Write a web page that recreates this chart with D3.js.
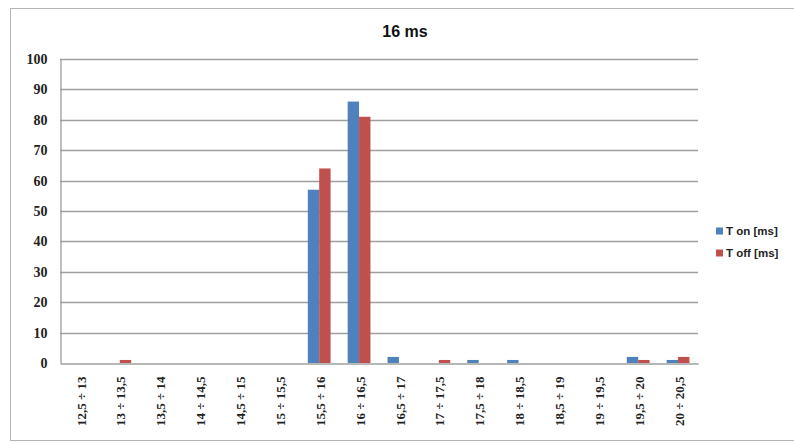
<!DOCTYPE html>
<html>
<head>
<meta charset="utf-8">
<script src="https://cdn.jsdelivr.net/npm/d3@7/dist/d3.min.js"></script>
<style>
  html, body { margin: 0; padding: 0; background: #fff; }
  svg { display: block; }
</style>
</head>
<body>
<svg id="chart" width="794" height="443"></svg>
<script>
// Interval classes (ms)
const categories = [
  "12,5 ÷ 13", "13 ÷ 13,5", "13,5 ÷ 14", "14 ÷ 14,5", "14,5 ÷ 15", "15 ÷ 15,5",
  "15,5 ÷ 16", "16 ÷ 16,5", "16,5 ÷ 17", "17 ÷ 17,5", "17,5 ÷ 18", "18 ÷ 18,5",
  "18,5 ÷ 19", "19 ÷ 19,5", "19,5 ÷ 20", "20 ÷ 20,5"
];
const tOn  = [0, 0, 0, 0, 0, 0, 57, 86, 2, 0, 1, 1, 0, 0, 2, 1];
const tOff = [0, 1, 0, 0, 0, 0, 64, 81, 0, 1, 0, 0, 0, 0, 1, 2];
const seriesNames = ["T on [ms]", "T off [ms]"];
const seriesColors = ["#4F81BD", "#C0504D"];
const yTicks = [0, 10, 20, 30, 40, 50, 60, 70, 80, 90, 100];
const title = "16 ms";

const svg = d3.select("#chart");
const plot = { left: 60, right: 698, top: 59, bottom: 363 };

// Outer chart frame
svg.append("rect")
  .attr("x", 10.5).attr("y", 8.5)
  .attr("width", 800).attr("height", 432)
  .attr("fill", "#fff")
  .attr("stroke", "#b4b4b4").attr("stroke-width", 1);

const x = d3.scaleBand().domain(categories).range([plot.left, plot.right]);
const barW = x.bandwidth() / 3.5;
const x1 = d3.scaleBand().domain(seriesNames)
  .range([(x.bandwidth() - 2 * barW) / 2, (x.bandwidth() + 2 * barW) / 2]);
const y = d3.scaleLinear().domain([0, 100]).range([plot.bottom, plot.top]);

// Gridlines
svg.append("g")
  .selectAll("line")
  .data(yTicks.filter(d => d > 0))
  .join("line")
  .attr("x1", plot.left).attr("x2", plot.right)
  .attr("y1", d => Math.round(y(d)) + 0.5).attr("y2", d => Math.round(y(d)) + 0.5)
  .attr("stroke", "#9f9f9f").attr("stroke-width", 1.3);

// Y axis
const yAxis = svg.append("g")
  .attr("transform", `translate(${plot.left + 0.5},0)`)
  .call(d3.axisLeft(y).tickValues(yTicks).tickSize(0).tickPadding(13));
yAxis.select(".domain").attr("stroke", "#9f9f9f").attr("stroke-width", 1.3);
yAxis.selectAll("text")
  .attr("font-family", "'Liberation Serif', 'DejaVu Serif', serif")
  .attr("font-weight", "bold")
  .attr("font-size", 14)
  .attr("fill", "#222");

// Bars
const groups = svg.append("g")
  .selectAll("g")
  .data(categories.map((c, i) => ({ c, vals: [tOn[i], tOff[i]] })))
  .join("g")
  .attr("transform", d => `translate(${x(d.c)},0)`);

groups.selectAll("rect")
  .data(d => d.vals.map((v, j) => ({ name: seriesNames[j], v, j })))
  .join("rect")
  .attr("x", d => x1(d.name))
  .attr("width", x1.bandwidth())
  .attr("y", d => y(d.v))
  .attr("height", d => y(0) - y(d.v))
  .attr("fill", d => seriesColors[d.j]);

// X axis
const xAxis = svg.append("g")
  .attr("transform", `translate(0,${plot.bottom + 0.5})`)
  .call(d3.axisBottom(x).tickSize(0).tickPadding(0));
xAxis.select(".domain").attr("stroke", "#9f9f9f").attr("stroke-width", 1.3);
xAxis.selectAll("text")
  .attr("font-family", "'Liberation Serif', 'DejaVu Serif', serif")
  .attr("font-weight", "bold")
  .attr("font-size", 13)
  .attr("fill", "#222")
  .attr("text-anchor", "end")
  .attr("dy", "0.35em")
  .attr("transform", "translate(1,13) rotate(-90)")
  .attr("x", 0).attr("y", 0);

// Title
svg.append("text")
  .attr("x", 405).attr("y", 37)
  .attr("text-anchor", "middle")
  .attr("font-family", "'Liberation Sans', Arial, sans-serif")
  .attr("font-weight", "bold")
  .attr("font-size", 16)
  .attr("fill", "#111")
  .text(title);

// Legend
const legend = svg.append("g")
  .selectAll("g")
  .data(seriesNames)
  .join("g")
  .attr("transform", (d, i) => `translate(716,${231 + i * 22})`);
legend.append("rect")
  .attr("x", 0).attr("y", -3.5).attr("width", 7).attr("height", 7)
  .attr("fill", (d, i) => seriesColors[i]);
legend.append("text")
  .attr("x", 10).attr("y", 0).attr("dy", "0.35em")
  .attr("font-family", "'Liberation Sans', Arial, sans-serif")
  .attr("font-weight", "bold")
  .attr("font-size", 11.5)
  .attr("fill", "#222")
  .text(d => d);
</script>
</body>
</html>
